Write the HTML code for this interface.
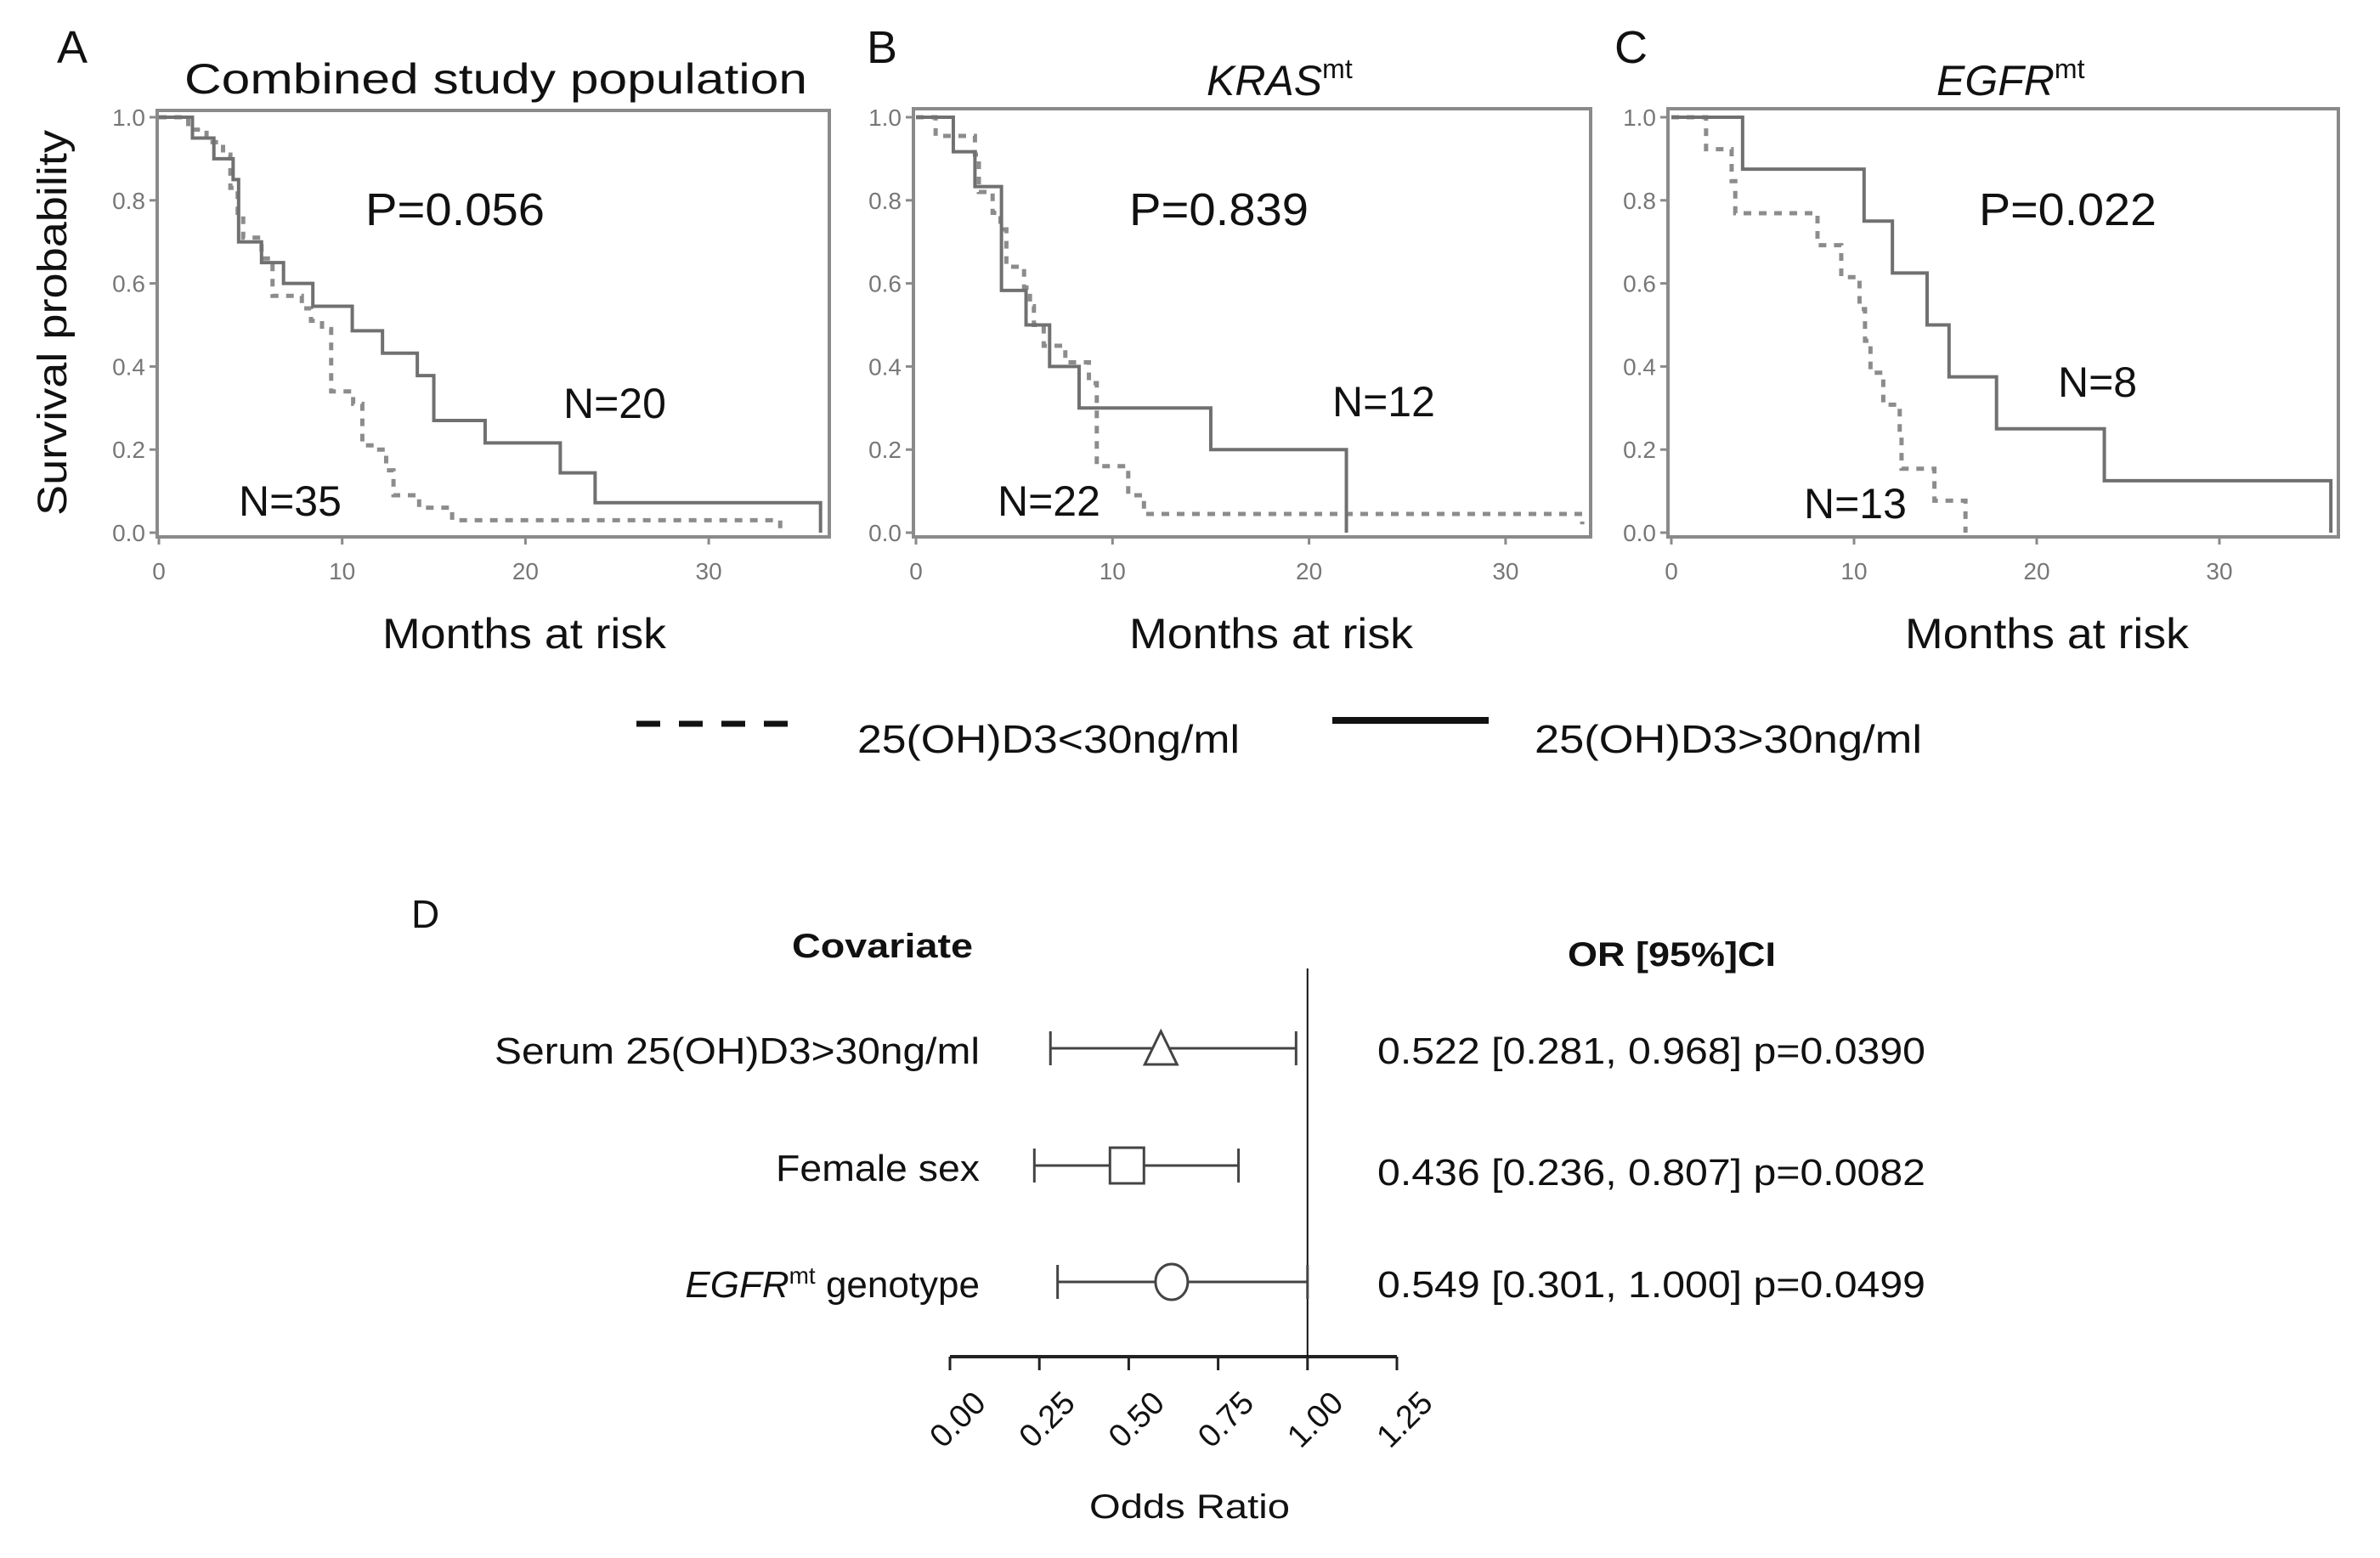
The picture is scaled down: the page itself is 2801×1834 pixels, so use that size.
<!DOCTYPE html>
<html><head><meta charset="utf-8"><style>
html,body{margin:0;padding:0;background:#fff}
svg{display:block}
text{font-family:"Liberation Sans",sans-serif;fill:#111}
</style></head><body>
<svg id="fig" width="2801" height="1834" viewBox="0 0 2801 1834" xmlns="http://www.w3.org/2000/svg">
<g id="km"></g>
<g>
  <line x1="749" y1="852" x2="928" y2="852" stroke="#111" stroke-width="7" stroke-dasharray="28,22"/>
  <text x="1009" y="886" font-size="46" textLength="450" lengthAdjust="spacingAndGlyphs">25(OH)D3&lt;30ng/ml</text>
  <line x1="1568" y1="848" x2="1752" y2="848" stroke="#111" stroke-width="8"/>
  <text x="1806" y="886" font-size="46" textLength="456" lengthAdjust="spacingAndGlyphs">25(OH)D3&gt;30ng/ml</text>
</g>
<g id="forest">
  <text x="484" y="1092" font-size="46">D</text>
  <text x="932" y="1127" font-size="40" font-weight="bold" textLength="213" lengthAdjust="spacingAndGlyphs">Covariate</text>
  <text x="1845" y="1137" font-size="40" font-weight="bold" textLength="245" lengthAdjust="spacingAndGlyphs">OR [95%]CI</text>
  <text x="1400" y="1787" font-size="40" text-anchor="middle" textLength="236" lengthAdjust="spacingAndGlyphs">Odds Ratio</text>
</g>
</svg>
<script>
// ---------- KM data ----------
const aSolidT=[0,1.83,3.0,4.05,4.35,5.6,6.8,8.4,10.55,12.2,14.1,15.0,17.8,21.9,23.8,36.1];
const aSolidS=[1,0.95,0.90,0.85,0.70,0.65,0.60,0.545,0.486,0.432,0.378,0.27,0.216,0.144,0.072,0];
const aDashT=[0,1.6,2.6,3.5,3.9,4.3,4.6,5.6,6.2,7.8,8.3,8.9,9.4,10.6,11.1,11.6,12.4,12.8,14.2,16.0,33.9];
const aDashS=[1,0.97,0.94,0.91,0.83,0.77,0.71,0.66,0.57,0.54,0.51,0.49,0.34,0.31,0.21,0.2,0.15,0.09,0.06,0.03,0];
const bSolidT=[0,1.9,3.0,4.35,5.6,6.8,8.3,15.0,21.9];
const bSolidS=[1,0.917,0.833,0.583,0.5,0.4,0.3,0.2,0];
const bDashT=[0,1.0,3.0,3.2,3.9,4.3,4.6,5.5,5.8,6.0,6.5,7.6,8.8,9.2,10.8,11.6,33.9];
const bDashS=[1,0.955,0.91,0.82,0.77,0.73,0.64,0.59,0.545,0.5,0.45,0.41,0.36,0.16,0.09,0.045,0.02];
const cSolidT=[0,3.9,10.55,12.1,14.0,15.2,17.8,23.7,36.1];
const cSolidS=[1,0.875,0.75,0.625,0.5,0.375,0.25,0.125,0];
const cDashT=[0,1.9,3.3,3.5,8.0,9.3,10.3,10.6,10.9,11.6,12.5,12.6,14.4,16.1];
const cDashS=[1,0.923,0.846,0.769,0.692,0.615,0.538,0.462,0.385,0.308,0.231,0.154,0.077,0];
const yTickVals=[0,0.2,0.4,0.6,0.8,1.0];
const yTickLabels=["0.0","0.2","0.4","0.6","0.8","1.0"];
const xTickVals=[0,10,20,30];
const pValues=["P=0.056","P=0.839","P=0.022"];
const nHigh=["N=20","N=12","N=8"];
const nLow=["N=35","N=22","N=13"];
// ---------- forest data ----------
const covariates=["Serum 25(OH)D3>30ng/ml","Female sex","genotype"];
const orPoint=[0.59,0.495,0.62];
const ciLow=[0.281,0.236,0.301];
const ciHigh=[0.968,0.807,1.000];
const orText=["0.522 [0.281, 0.968] p=0.0390","0.436 [0.236, 0.807] p=0.0082","0.549 [0.301, 1.000] p=0.0499"];
const orTicks=[0,0.25,0.5,0.75,1.0,1.25];
const orTickLabels=["0.00","0.25","0.50","0.75","1.00","1.25"];

const NS="http://www.w3.org/2000/svg";
function mk(tag,attrs,parent,txt){const e=document.createElementNS(NS,tag);for(const k in attrs)e.setAttribute(k,attrs[k]);if(txt!==undefined)e.textContent=txt;parent.appendChild(e);return e;}

const panels=[
 {L:185,T:130,R:976,B:632,x0:187,ppm:21.57,letter:"A",lx:67,title:"Combined study population",tx:217,tw:733,
  ST:aSolidT,SS:aSolidS,DT:aDashT,DS:aDashS,px:430,pw:211,nhx:663,nhy:492,nlx:281,nly:607,mx:450},
 {L:1075,T:128,R:1872,B:632,x0:1078,ppm:23.13,letter:"B",lx:1020,title:"KRAS",tx:1420,
  ST:bSolidT,SS:bSolidS,DT:bDashT,DS:bDashS,px:1329,pw:211,nhx:1568,nhy:490,nlx:1174,nly:607,mx:1329},
 {L:1963,T:128,R:2752,B:632,x0:1967,ppm:21.5,letter:"C",lx:1900,title:"EGFR",tx:2279,
  ST:cSolidT,SS:cSolidS,DT:cDashT,DS:cDashS,px:2329,pw:209,nhx:2422,nhy:467,nlx:2123,nly:610,mx:2242}
];
const km=document.getElementById('km');
const y0=627,y1=138;
function ys(s){return y0-(y0-y1)*s;}
function stepPath(T,S,xs){let d="M"+xs(T[0])+","+ys(S[0]);for(let i=1;i<T.length;i++){d+=" H"+xs(T[i])+" V"+ys(S[i]);}return d;}
panels.forEach((p,i)=>{
  const g=mk('g',{},km);
  
  
  const xs=t=>p.x0+t*p.ppm;
  const lt=mk('text',{x:p.lx,y:74,'font-size':54},g,p.letter);
  
  
  let tt;
  if(i===0){tt=mk('text',{x:p.tx,y:110,'font-size':50,textLength:p.tw,lengthAdjust:'spacingAndGlyphs'},g,p.title);}
  else{tt=mk('text',{x:p.tx,y:112,'font-size':50,'font-style':'italic'},g,p.title);
    mk('tspan',{dy:-20,'font-size':32,'font-style':'normal'},tt,"mt");}
  
  
  const fr=mk('rect',{x:p.L,y:p.T,width:p.R-p.L,height:p.B-p.T,fill:'none',stroke:'#8a8a8a','stroke-width':4},g);
  
  
  yTickVals.forEach((v,k)=>{
    mk('line',{x1:p.L-9,x2:p.L,y1:ys(v),y2:ys(v),stroke:'#8a8a8a','stroke-width':3},g);
    const t=mk('text',{x:p.L-14,y:ys(v)+10,'font-size':28,'text-anchor':'end',style:'fill:#777'},g,yTickLabels[k]);
    
    
  });
  xTickVals.forEach(v=>{
    mk('line',{x1:xs(v),x2:xs(v),y1:p.B,y2:p.B+9,stroke:'#8a8a8a','stroke-width':3},g);
    const t=mk('text',{x:xs(v),y:682,'font-size':28,'text-anchor':'middle',style:'fill:#777'},g,String(v));
    
    
  });
  const dp=mk('path',{d:stepPath(p.DT,p.DS,xs),fill:'none',stroke:'#8c8c8c','stroke-width':5,'stroke-dasharray':'9,9'},g);
  
  
  const sp=mk('path',{d:stepPath(p.ST,p.SS,xs),fill:'none',stroke:'#707070','stroke-width':4},g);
  
  
  const pt=mk('text',{x:p.px,y:265,'font-size':54,textLength:p.pw,lengthAdjust:'spacingAndGlyphs'},g,pValues[i]);
  
  
  const n1=mk('text',{x:p.nhx,y:p.nhy,'font-size':50},g,nHigh[i]);
  
  
  const n2=mk('text',{x:p.nlx,y:p.nly,'font-size':50},g,nLow[i]);
  
  
  const mt=mk('text',{x:p.mx,y:763,'font-size':50,textLength:334,lengthAdjust:'spacingAndGlyphs'},g,"Months at risk");
  
  
});
const yt=mk('text',{x:0,y:0,'font-size':48,'text-anchor':'middle',transform:'translate(78,380) rotate(-90)',textLength:454,lengthAdjust:'spacingAndGlyphs'},km,"Survival probability");



// ---------- forest ----------
const fg=document.getElementById('forest');
const fx=v=>1118+v*420.8;
const rowY=[1234,1372,1509];
const ax=mk('line',{x1:fx(0),x2:fx(1.25),y1:1597,y2:1597,stroke:'#222','stroke-width':4},fg);


const ref=mk('line',{x1:fx(1),x2:fx(1),y1:1140,y2:1597,stroke:'#111','stroke-width':2},fg);


orTicks.forEach((v,k)=>{
  mk('line',{x1:fx(v),x2:fx(v),y1:1597,y2:1613,stroke:'#222','stroke-width':3},fg);
  const t=mk('text',{x:0,y:0,'font-size':38,'text-anchor':'middle',transform:`translate(${fx(v)+18},${1680}) rotate(-45)`},fg,orTickLabels[k]);
  
  
});
covariates.forEach((c,i)=>{
  const y=rowY[i];
  const g=mk('g',{},fg);
  
  
  let lab;
  if(i===2){lab=mk('text',{x:1153,y:y+18,'font-size':44,'text-anchor':'end'},g);
    mk('tspan',{'font-style':'italic'},lab,"EGFR");
    mk('tspan',{dy:-16,'font-size':28},lab,"mt");
    mk('tspan',{dy:16},lab," "+c);}
  else{lab=mk('text',{x:1153,y:y+18,'font-size':44,'text-anchor':'end',textLength:i===0?571:240,lengthAdjust:'spacingAndGlyphs'},g,c);}
  
  
  const wl=mk('line',{x1:fx(ciLow[i]),x2:fx(ciHigh[i]),y1:y,y2:y,stroke:'#444','stroke-width':3},g);
  
  
  mk('line',{x1:fx(ciLow[i]),x2:fx(ciLow[i]),y1:y-20,y2:y+20,stroke:'#444','stroke-width':3},g);
  mk('line',{x1:fx(ciHigh[i]),x2:fx(ciHigh[i]),y1:y-20,y2:y+20,stroke:'#444','stroke-width':3},g);
  const cx=fx(orPoint[i]);let m;
  if(i===0)m=mk('polygon',{points:`${cx},${y-20} ${cx-19},${y+19} ${cx+19},${y+19}`,fill:'#fff',stroke:'#444','stroke-width':3},g);
  else if(i===1)m=mk('rect',{x:cx-20,y:y-21,width:40,height:42,fill:'#fff',stroke:'#444','stroke-width':3},g);
  else m=mk('ellipse',{cx:cx,cy:y,rx:19,ry:21,fill:'#fff',stroke:'#444','stroke-width':3},g);
  
  
  const ot=mk('text',{x:1621,y:[1252,1395,1527][i],'font-size':44,textLength:645,lengthAdjust:'spacingAndGlyphs'},g,orText[i]);
  
  
});
</script>
</body></html>
